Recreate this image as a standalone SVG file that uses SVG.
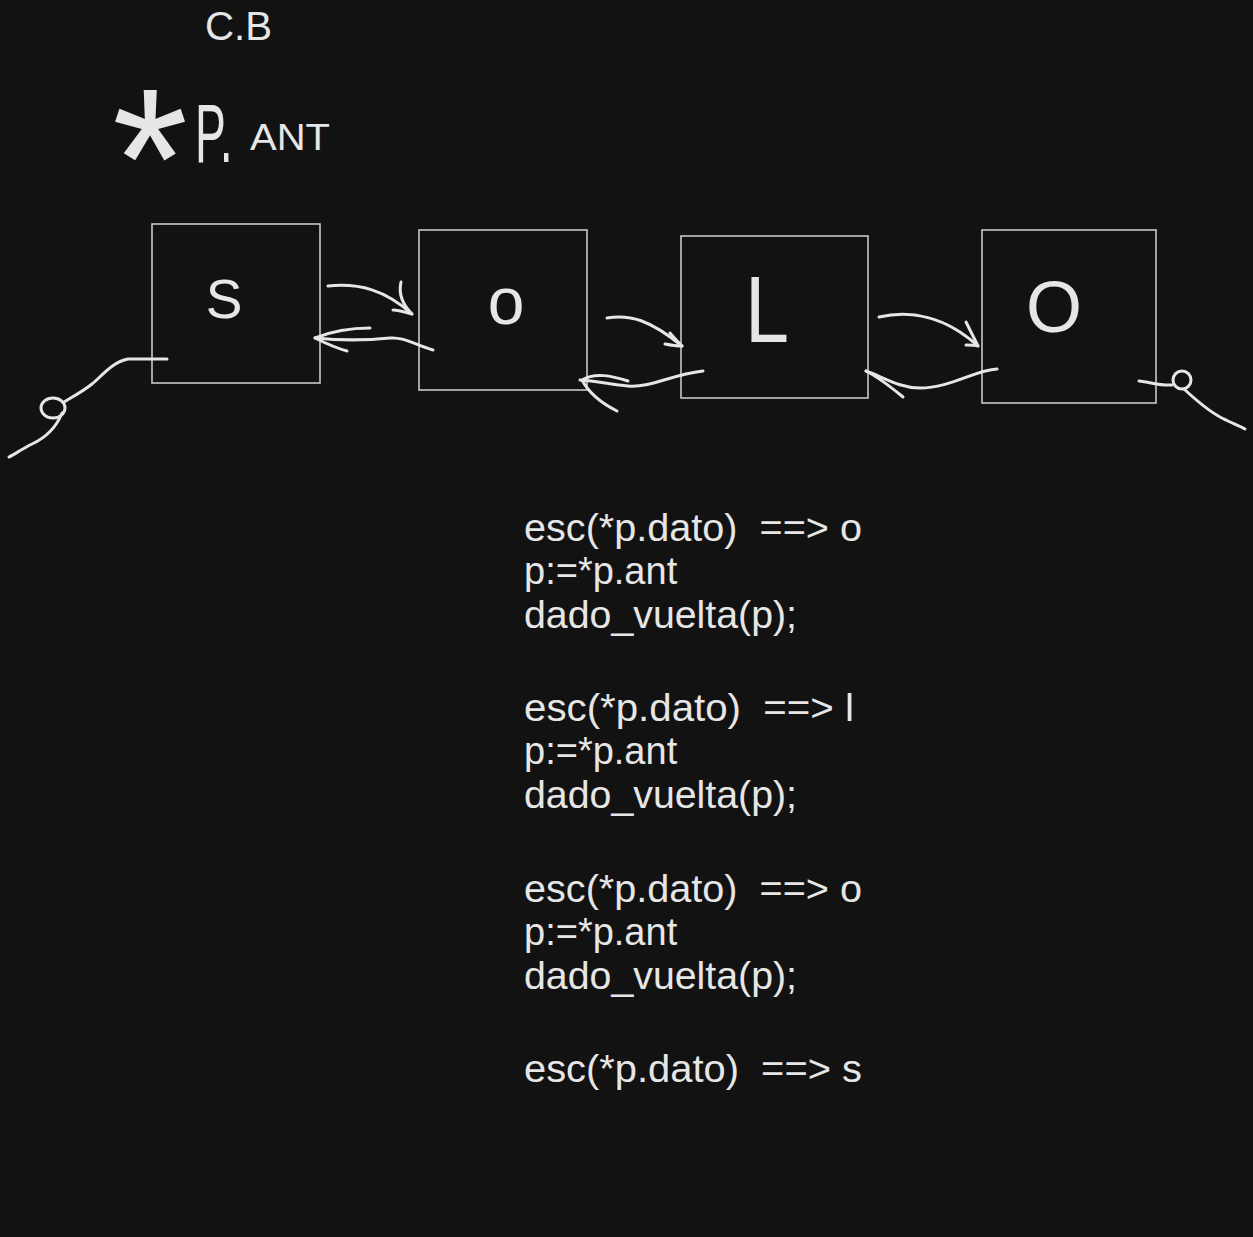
<svg xmlns="http://www.w3.org/2000/svg" width="1253" height="1237" viewBox="0 0 1253 1237">
  <style>
    .bg { fill: #121212; }
    .box { fill: none; stroke: #c8c8c8; stroke-width: 1.6; }
    .ink { fill: none; stroke: #e6e6e6; stroke-width: 3; stroke-linecap: round; stroke-linejoin: round; }
    .lbl { fill: #e6e6e6; font-family: "Liberation Sans", Arial, sans-serif; }
    .code { fill: #e6e6e6; font-family: "Liberation Sans", Arial, sans-serif; font-size: 38px; }
  </style>
  <rect class="bg" x="0" y="0" width="1253" height="1237"/>

  <g id="title">
    <text class="lbl" x="205" y="40" font-size="40" textLength="67" lengthAdjust="spacingAndGlyphs">C.B</text>
    <text class="lbl" x="112" y="228" font-size="200" textLength="76" lengthAdjust="spacingAndGlyphs">*</text>
    <text class="lbl" transform="translate(195,162) scale(0.55,1)" x="0" y="0" font-size="84">P.</text>
    <text class="lbl" x="250" y="150" font-size="36" textLength="80" lengthAdjust="spacingAndGlyphs">ANT</text>
  </g>

  <g id="node-s">
    <rect class="box" x="152" y="224" width="168" height="159"/>
    <text class="lbl" x="224" y="318" font-size="55" text-anchor="middle">S</text>
  </g>
  <g id="node-o1">
    <rect class="box" x="419" y="230" width="168" height="160"/>
    <text class="lbl" x="506" y="324" font-size="66" text-anchor="middle">o</text>
  </g>
  <g id="node-l">
    <rect class="box" x="681" y="236" width="187" height="162"/>
    <text class="lbl" x="767" y="342" font-size="94" text-anchor="middle" textLength="44" lengthAdjust="spacingAndGlyphs">L</text>
  </g>
  <g id="node-o2">
    <rect class="box" x="982" y="230" width="174" height="173"/>
    <text class="lbl" x="1054" y="332" font-size="72" text-anchor="middle">O</text>
  </g>

  <g id="connectors">
    <!-- S -> o -->
    <path class="ink" d="M328,286 C360,283 385,290 412,314"/>
    <path class="ink" d="M401,282 C398,295 403,305 412,314 C405,312 398,310 393,310"/>
    <!-- o -> S -->
    <path class="ink" d="M433,350 C415,345 405,337 390,338 C370,340 345,341 315,338"/>
    <path class="ink" d="M370,328 C350,328 330,332 315,338 C325,343 336,348 347,351"/>
    <!-- o -> L -->
    <path class="ink" d="M607,318 C630,314 650,320 682,346"/>
    <path class="ink" d="M670,333 C674,338 678,342 682,346 C676,346 670,345 665,344"/>
    <!-- L -> o -->
    <path class="ink" d="M703,371 C670,375 650,388 628,386 C610,384 595,381 580,380"/>
    <path class="ink" d="M628,381 C612,376 595,372 582,380 C590,395 605,405 617,411"/>
    <!-- L -> O -->
    <path class="ink" d="M879,317 C910,310 945,316 978,346"/>
    <path class="ink" d="M966,322 C970,330 974,338 978,346 C974,345 970,345 966,345"/>
    <!-- O -> L -->
    <path class="ink" d="M997,369 C975,370 950,388 920,388 C900,388 885,378 866,371"/>
    <path class="ink" d="M866,371 C880,378 892,388 903,397"/>
    <!-- null from S -->
    <path class="ink" d="M167,359 L128,359 C112,362 102,376 92,384 C82,392 72,397 64,402"/>
    <ellipse class="ink" cx="53" cy="408" rx="12" ry="10"/>
    <path class="ink" d="M62,413 C56,428 45,438 32,444 C22,449 15,454 9,457"/>
    <!-- null from O -->
    <path class="ink" d="M1139,381 C1150,382 1160,386 1172,385"/>
    <ellipse class="ink" cx="1182" cy="380" rx="9" ry="9"/>
    <path class="ink" d="M1184,389 C1198,402 1212,414 1226,420 C1234,424 1240,426 1245,429"/>
  </g>

  <g id="code">
    <text class="code" x="524" y="541" textLength="338" lengthAdjust="spacingAndGlyphs" xml:space="preserve">esc(*p.dato)  ==&gt; o</text>
    <text class="code" x="524" y="584">p:=*p.ant</text>
    <text class="code" x="524" y="628" textLength="273" lengthAdjust="spacingAndGlyphs">dado_vuelta(p);</text>

    <text class="code" x="524" y="721" textLength="330" lengthAdjust="spacingAndGlyphs" xml:space="preserve">esc(*p.dato)  ==&gt; l</text>
    <text class="code" x="524" y="764">p:=*p.ant</text>
    <text class="code" x="524" y="808" textLength="273" lengthAdjust="spacingAndGlyphs">dado_vuelta(p);</text>

    <text class="code" x="524" y="902" textLength="338" lengthAdjust="spacingAndGlyphs" xml:space="preserve">esc(*p.dato)  ==&gt; o</text>
    <text class="code" x="524" y="945">p:=*p.ant</text>
    <text class="code" x="524" y="989" textLength="273" lengthAdjust="spacingAndGlyphs">dado_vuelta(p);</text>

    <text class="code" x="524" y="1082" textLength="338" lengthAdjust="spacingAndGlyphs" xml:space="preserve">esc(*p.dato)  ==&gt; s</text>
  </g>
</svg>
